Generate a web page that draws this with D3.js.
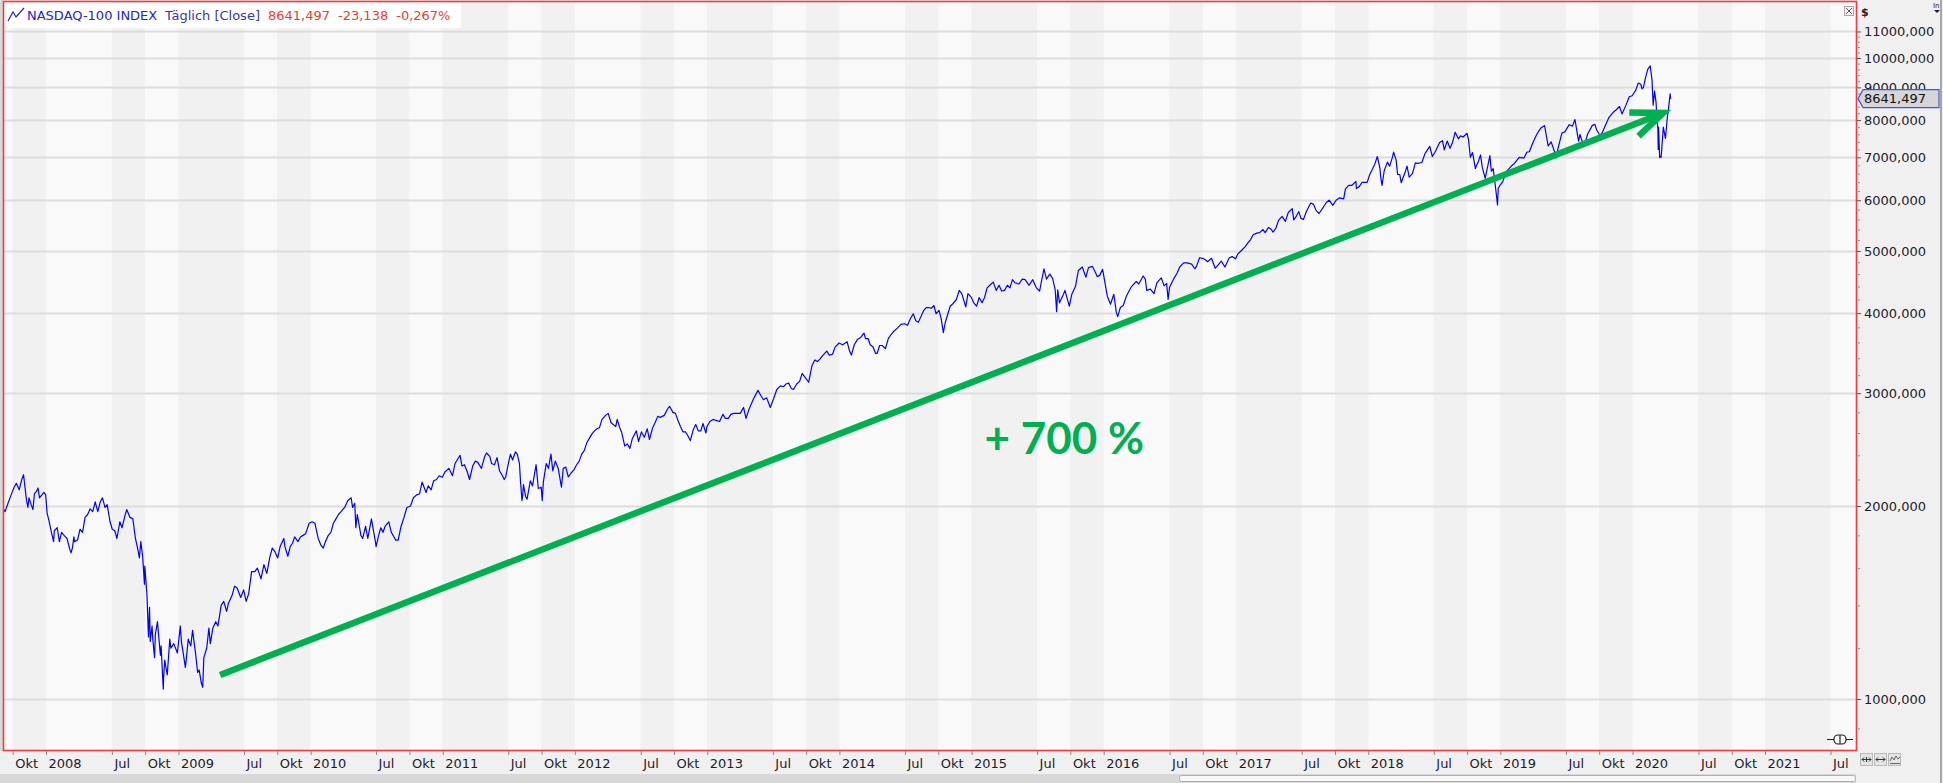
<!DOCTYPE html>
<html>
<head>
<meta charset="utf-8">
<script src="https://cdn.jsdelivr.net/npm/d3@7"></script>
<style>
  html, body { margin: 0; padding: 0; background: #f0f0f0; overflow: hidden; }
  svg { display: block; font-family: 'DejaVu Sans', sans-serif; }
</style>
</head>
<body>
<svg id="chart" width="1943" height="783"></svg>
<script>
const closes = [
  ['2007-09-04', 1985], ['2007-09-10', 1960], ['2007-09-18', 2020], ['2007-09-28', 2091],
  ['2007-10-05', 2140], ['2007-10-11', 2170], ['2007-10-19', 2120], ['2007-10-26', 2200],
  ['2007-10-31', 2238], ['2007-11-08', 2045], ['2007-11-12', 1990], ['2007-11-15', 2060],
  ['2007-11-21', 2010], ['2007-11-26', 1975], ['2007-11-30', 2090], ['2007-12-06', 2110],
  ['2007-12-10', 2134], ['2007-12-14', 2060], ['2007-12-20', 2080], ['2007-12-26', 2100],
  ['2007-12-31', 2084],
  ['2008-01-04', 1950], ['2008-01-09', 1900], ['2008-01-15', 1830], ['2008-01-18', 1800],
  ['2008-01-22', 1760], ['2008-01-24', 1830], ['2008-02-01', 1850], ['2008-02-07', 1760],
  ['2008-02-13', 1820], ['2008-02-20', 1800], ['2008-02-28', 1780], ['2008-03-07', 1710],
  ['2008-03-10', 1690], ['2008-03-14', 1720], ['2008-03-18', 1790], ['2008-03-20', 1760],
  ['2008-03-28', 1770], ['2008-04-04', 1840], ['2008-04-11', 1820], ['2008-04-18', 1920],
  ['2008-04-25', 1940], ['2008-05-02', 1980], ['2008-05-09', 1960], ['2008-05-16', 2030],
  ['2008-05-23', 1960], ['2008-05-30', 2030], ['2008-06-05', 2060], ['2008-06-12', 1990],
  ['2008-06-18', 2010], ['2008-06-26', 1890], ['2008-07-02', 1840], ['2008-07-09', 1830],
  ['2008-07-15', 1780], ['2008-07-23', 1890], ['2008-07-29', 1850], ['2008-08-06', 1930],
  ['2008-08-11', 1975], ['2008-08-20', 1920], ['2008-08-28', 1910], ['2008-09-04', 1780],
  ['2008-09-09', 1730], ['2008-09-15', 1660], ['2008-09-19', 1760], ['2008-09-24', 1670],
  ['2008-09-29', 1510], ['2008-09-30', 1612], ['2008-10-06', 1450], ['2008-10-09', 1300],
  ['2008-10-10', 1250], ['2008-10-13', 1390], ['2008-10-15', 1230], ['2008-10-20', 1300],
  ['2008-10-22', 1240], ['2008-10-27', 1160], ['2008-10-29', 1260], ['2008-11-04', 1320],
  ['2008-11-07', 1260], ['2008-11-12', 1170], ['2008-11-14', 1210], ['2008-11-20', 1036],
  ['2008-11-21', 1080], ['2008-11-24', 1150], ['2008-12-01', 1090], ['2008-12-08', 1240],
  ['2008-12-11', 1200], ['2008-12-19', 1220], ['2008-12-29', 1180],
  ['2009-01-06', 1300], ['2009-01-09', 1230], ['2009-01-15', 1170], ['2009-01-20', 1120],
  ['2009-01-23', 1160], ['2009-01-28', 1240], ['2009-02-04', 1210], ['2009-02-09', 1280],
  ['2009-02-17', 1180], ['2009-02-23', 1100], ['2009-02-27', 1110], ['2009-03-05', 1060],
  ['2009-03-09', 1043], ['2009-03-12', 1160], ['2009-03-20', 1200], ['2009-03-26', 1290],
  ['2009-03-30', 1220], ['2009-04-06', 1290], ['2009-04-14', 1320], ['2009-04-20', 1300],
  ['2009-04-29', 1400], ['2009-05-06', 1420], ['2009-05-14', 1370], ['2009-05-19', 1410],
  ['2009-05-29', 1450], ['2009-06-05', 1500], ['2009-06-12', 1490], ['2009-06-22', 1440],
  ['2009-06-30', 1480], ['2009-07-07', 1420], ['2009-07-14', 1460], ['2009-07-22', 1580],
  ['2009-07-31', 1580], ['2009-08-07', 1600], ['2009-08-17', 1540], ['2009-08-25', 1620],
  ['2009-09-02', 1570], ['2009-09-10', 1660], ['2009-09-17', 1720], ['2009-09-24', 1700],
  ['2009-10-02', 1660], ['2009-10-09', 1730], ['2009-10-19', 1780], ['2009-10-22', 1730],
  ['2009-10-30', 1670], ['2009-11-06', 1730], ['2009-11-12', 1750], ['2009-11-18', 1790],
  ['2009-11-27', 1760], ['2009-12-04', 1790], ['2009-12-11', 1800], ['2009-12-18', 1810],
  ['2009-12-28', 1880],
  ['2010-01-05', 1890], ['2010-01-13', 1880], ['2010-01-22', 1780], ['2010-01-29', 1740],
  ['2010-02-05', 1720], ['2010-02-11', 1760], ['2010-02-19', 1800], ['2010-02-26', 1820],
  ['2010-03-05', 1880], ['2010-03-12', 1910], ['2010-03-19', 1940], ['2010-03-26', 1960],
  ['2010-04-05', 1990], ['2010-04-14', 2040], ['2010-04-23', 2060], ['2010-04-27', 1990],
  ['2010-05-03', 2020], ['2010-05-06', 1850], ['2010-05-10', 1940], ['2010-05-20', 1800],
  ['2010-05-25', 1780], ['2010-06-02', 1860], ['2010-06-08', 1780], ['2010-06-18', 1910],
  ['2010-06-29', 1760], ['2010-07-01', 1728], ['2010-07-08', 1800], ['2010-07-14', 1850],
  ['2010-07-20', 1820], ['2010-07-26', 1860], ['2010-08-05', 1890], ['2010-08-12', 1820],
  ['2010-08-24', 1770], ['2010-08-31', 1770], ['2010-09-08', 1860], ['2010-09-16', 1920],
  ['2010-09-24', 1990], ['2010-10-04', 2000], ['2010-10-12', 2060], ['2010-10-20', 2080],
  ['2010-10-29', 2090], ['2010-11-05', 2180], ['2010-11-16', 2100], ['2010-11-22', 2150],
  ['2010-11-30', 2120], ['2010-12-07', 2190], ['2010-12-15', 2200], ['2010-12-22', 2230],
  ['2010-12-31', 2218],
  ['2011-01-07', 2260], ['2011-01-18', 2290], ['2011-01-28', 2230], ['2011-02-04', 2330],
  ['2011-02-10', 2360], ['2011-02-18', 2400], ['2011-02-23', 2310], ['2011-03-02', 2320],
  ['2011-03-10', 2260], ['2011-03-16', 2200], ['2011-03-25', 2310], ['2011-04-01', 2350],
  ['2011-04-08', 2340], ['2011-04-18', 2290], ['2011-04-27', 2390], ['2011-05-02', 2420],
  ['2011-05-11', 2390], ['2011-05-16', 2330], ['2011-05-24', 2320], ['2011-05-31', 2380],
  ['2011-06-07', 2270], ['2011-06-15', 2230], ['2011-06-20', 2200], ['2011-06-24', 2220],
  ['2011-06-30', 2310], ['2011-07-07', 2410], ['2011-07-13', 2360], ['2011-07-21', 2430],
  ['2011-07-26', 2410], ['2011-08-01', 2330], ['2011-08-04', 2180], ['2011-08-08', 2040],
  ['2011-08-10', 2080], ['2011-08-12', 2160], ['2011-08-18', 2070], ['2011-08-22', 2050],
  ['2011-08-31', 2190], ['2011-09-06', 2150], ['2011-09-16', 2320], ['2011-09-22', 2130],
  ['2011-09-30', 2140], ['2011-10-03', 2040], ['2011-10-06', 2180], ['2011-10-14', 2330],
  ['2011-10-20', 2290], ['2011-10-27', 2410], ['2011-11-01', 2270], ['2011-11-08', 2350],
  ['2011-11-16', 2290], ['2011-11-25', 2140], ['2011-11-30', 2290], ['2011-12-07', 2300],
  ['2011-12-14', 2220], ['2011-12-21', 2250], ['2011-12-30', 2280],
  ['2012-01-06', 2320], ['2012-01-13', 2350], ['2012-01-20', 2410], ['2012-01-27', 2440],
  ['2012-02-03', 2510], ['2012-02-10', 2550], ['2012-02-17', 2590], ['2012-02-24', 2620],
  ['2012-03-02', 2640], ['2012-03-09', 2650], ['2012-03-16', 2730], ['2012-03-26', 2770],
  ['2012-04-02', 2790], ['2012-04-10', 2700], ['2012-04-13', 2690], ['2012-04-23', 2660],
  ['2012-04-27', 2730], ['2012-05-04', 2650], ['2012-05-09', 2610], ['2012-05-18', 2480],
  ['2012-05-25', 2500], ['2012-06-01', 2460], ['2012-06-08', 2550], ['2012-06-19', 2620],
  ['2012-06-25', 2520], ['2012-07-03', 2610], ['2012-07-11', 2560], ['2012-07-19', 2640],
  ['2012-07-25', 2540], ['2012-08-03', 2650], ['2012-08-10', 2700], ['2012-08-17', 2760],
  ['2012-08-24', 2750], ['2012-09-04', 2770], ['2012-09-14', 2840], ['2012-09-19', 2860],
  ['2012-09-28', 2800], ['2012-10-05', 2790], ['2012-10-12', 2720], ['2012-10-19', 2660],
  ['2012-10-26', 2610], ['2012-11-02', 2610], ['2012-11-09', 2570], ['2012-11-15', 2530],
  ['2012-11-23', 2630], ['2012-11-30', 2680], ['2012-12-07', 2620], ['2012-12-14', 2620],
  ['2012-12-20', 2690], ['2012-12-28', 2600], ['2012-12-31', 2660],
  ['2013-01-08', 2710], ['2013-01-17', 2730], ['2013-01-25', 2720], ['2013-02-04', 2710],
  ['2013-02-13', 2780], ['2013-02-20', 2740], ['2013-02-28', 2740], ['2013-03-07', 2780],
  ['2013-03-15', 2790], ['2013-03-22', 2790], ['2013-04-02', 2790], ['2013-04-11', 2850],
  ['2013-04-18', 2740], ['2013-04-26', 2830], ['2013-05-03', 2890], ['2013-05-10', 2950],
  ['2013-05-21', 3030], ['2013-05-28', 2980], ['2013-06-05', 2930], ['2013-06-14', 2950],
  ['2013-06-24', 2850], ['2013-07-03', 2940], ['2013-07-12', 3040], ['2013-07-22', 3080],
  ['2013-07-31', 3070], ['2013-08-06', 3100], ['2013-08-14', 3110], ['2013-08-21', 3050],
  ['2013-08-27', 3040], ['2013-09-05', 3100], ['2013-09-13', 3130], ['2013-09-20', 3220],
  ['2013-09-27', 3180], ['2013-10-08', 3120], ['2013-10-17', 3310], ['2013-10-25', 3380],
  ['2013-11-01', 3360], ['2013-11-08', 3390], ['2013-11-15', 3430], ['2013-11-27', 3490],
  ['2013-12-04', 3440], ['2013-12-13', 3450], ['2013-12-20', 3540], ['2013-12-31', 3592],
  ['2014-01-10', 3570], ['2014-01-22', 3610], ['2014-01-29', 3490], ['2014-02-03', 3440],
  ['2014-02-11', 3570], ['2014-02-20', 3640], ['2014-02-28', 3660], ['2014-03-06', 3700],
  ['2014-03-10', 3720], ['2014-03-14', 3650], ['2014-03-21', 3650], ['2014-03-27', 3570],
  ['2014-04-04', 3540], ['2014-04-11', 3460], ['2014-04-15', 3460], ['2014-04-22', 3560],
  ['2014-04-29', 3560], ['2014-05-08', 3520], ['2014-05-16', 3650], ['2014-05-23', 3700],
  ['2014-05-30', 3740], ['2014-06-10', 3790], ['2014-06-20', 3840], ['2014-06-30', 3850],
  ['2014-07-08', 3830], ['2014-07-16', 3920], ['2014-07-24', 3990], ['2014-07-31', 3890],
  ['2014-08-07', 3870], ['2014-08-15', 3960], ['2014-08-22', 4040], ['2014-08-29', 4080],
  ['2014-09-05', 4080], ['2014-09-12', 4070], ['2014-09-19', 4110], ['2014-09-25', 3990],
  ['2014-10-03', 4040], ['2014-10-09', 3920], ['2014-10-15', 3730], ['2014-10-20', 3860],
  ['2014-10-27', 3980], ['2014-11-03', 4100], ['2014-11-11', 4140], ['2014-11-20', 4200],
  ['2014-11-28', 4340], ['2014-12-05', 4290], ['2014-12-16', 4090], ['2014-12-22', 4290],
  ['2014-12-31', 4236],
  ['2015-01-07', 4150], ['2015-01-15', 4100], ['2015-01-22', 4230], ['2015-01-30', 4150],
  ['2015-02-06', 4230], ['2015-02-13', 4380], ['2015-02-24', 4440], ['2015-03-02', 4470],
  ['2015-03-10', 4340], ['2015-03-18', 4420], ['2015-03-25', 4330], ['2015-04-02', 4340],
  ['2015-04-10', 4420], ['2015-04-17', 4380], ['2015-04-24', 4510], ['2015-05-01', 4460],
  ['2015-05-12', 4440], ['2015-05-21', 4520], ['2015-05-29', 4510], ['2015-06-09', 4420],
  ['2015-06-19', 4510], ['2015-06-29', 4380], ['2015-07-08', 4330], ['2015-07-13', 4480],
  ['2015-07-20', 4690], ['2015-07-27', 4520], ['2015-08-05', 4600], ['2015-08-13', 4530],
  ['2015-08-20', 4350], ['2015-08-24', 4020], ['2015-08-27', 4350], ['2015-09-01', 4150],
  ['2015-09-11', 4270], ['2015-09-16', 4340], ['2015-09-28', 4100], ['2015-10-05', 4280],
  ['2015-10-15', 4400], ['2015-10-23', 4660], ['2015-11-03', 4720], ['2015-11-13', 4550],
  ['2015-11-20', 4710], ['2015-12-01', 4730], ['2015-12-10', 4620], ['2015-12-14', 4560],
  ['2015-12-21', 4580], ['2015-12-29', 4680],
  ['2016-01-04', 4480], ['2016-01-11', 4250], ['2016-01-20', 4130], ['2016-01-29', 4280],
  ['2016-02-05', 4010], ['2016-02-09', 3950], ['2016-02-16', 4080], ['2016-02-24', 4110],
  ['2016-03-03', 4240], ['2016-03-11', 4330], ['2016-03-18', 4400], ['2016-03-31', 4480],
  ['2016-04-07', 4440], ['2016-04-19', 4570], ['2016-04-25', 4520], ['2016-04-29', 4340],
  ['2016-05-09', 4360], ['2016-05-19', 4290], ['2016-05-27', 4460], ['2016-06-08', 4540],
  ['2016-06-16', 4410], ['2016-06-23', 4450], ['2016-06-27', 4200], ['2016-07-01', 4390],
  ['2016-07-14', 4540], ['2016-07-22', 4620], ['2016-07-29', 4720], ['2016-08-09', 4790],
  ['2016-08-19', 4790], ['2016-08-31', 4770], ['2016-09-09', 4690], ['2016-09-14', 4740],
  ['2016-09-22', 4880], ['2016-09-30', 4870], ['2016-10-07', 4850], ['2016-10-14', 4810],
  ['2016-10-25', 4870], ['2016-11-04', 4700], ['2016-11-10', 4740], ['2016-11-21', 4820],
  ['2016-12-01', 4720], ['2016-12-13', 4880], ['2016-12-21', 4900], ['2016-12-30', 4860],
  ['2017-01-06', 4950], ['2017-01-13', 4990], ['2017-01-26', 5080], ['2017-02-03', 5150],
  ['2017-02-10', 5210], ['2017-02-17', 5300], ['2017-02-27', 5330], ['2017-03-07', 5340],
  ['2017-03-16', 5400], ['2017-03-22', 5340], ['2017-03-31', 5440], ['2017-04-07', 5410],
  ['2017-04-13', 5350], ['2017-04-21', 5430], ['2017-04-28', 5580], ['2017-05-08', 5660],
  ['2017-05-17', 5560], ['2017-05-25', 5740], ['2017-06-05', 5820], ['2017-06-09', 5590],
  ['2017-06-15', 5650], ['2017-06-23', 5760], ['2017-06-29', 5620], ['2017-07-06', 5600],
  ['2017-07-14', 5760], ['2017-07-26', 5940], ['2017-08-03', 5910], ['2017-08-10', 5780],
  ['2017-08-18', 5720], ['2017-08-28', 5830], ['2017-09-07', 5950], ['2017-09-15', 6000],
  ['2017-09-25', 5890], ['2017-10-04', 6000], ['2017-10-13', 6050], ['2017-10-25', 6030],
  ['2017-10-30', 6250], ['2017-11-08', 6330], ['2017-11-17', 6330], ['2017-11-28', 6420],
  ['2017-11-29', 6260], ['2017-12-07', 6300], ['2017-12-15', 6400], ['2017-12-29', 6396],
  ['2018-01-05', 6580], ['2018-01-12', 6700], ['2018-01-19', 6830], ['2018-01-26', 7020],
  ['2018-02-02', 6740], ['2018-02-05', 6480], ['2018-02-08', 6330], ['2018-02-14', 6670],
  ['2018-02-23', 6880], ['2018-03-01', 6780], ['2018-03-08', 6980], ['2018-03-12', 7130],
  ['2018-03-19', 6930], ['2018-03-23', 6580], ['2018-03-29', 6580], ['2018-04-02', 6390],
  ['2018-04-06', 6480], ['2018-04-13', 6640], ['2018-04-18', 6780], ['2018-04-24', 6520],
  ['2018-05-03', 6600], ['2018-05-11', 6860], ['2018-05-18', 6850], ['2018-05-29', 6870],
  ['2018-06-07', 7100], ['2018-06-20', 7280], ['2018-06-27', 7020], ['2018-07-06', 7160],
  ['2018-07-17', 7380], ['2018-07-25', 7430], ['2018-07-30', 7190], ['2018-08-07', 7420],
  ['2018-08-15', 7230], ['2018-08-22', 7390], ['2018-08-29', 7660], ['2018-09-07', 7480],
  ['2018-09-13', 7560], ['2018-09-20', 7530], ['2018-10-01', 7630], ['2018-10-05', 7450],
  ['2018-10-10', 7000], ['2018-10-16', 7120], ['2018-10-24', 6720], ['2018-10-26', 6780],
  ['2018-11-01', 6890], ['2018-11-07', 7060], ['2018-11-12', 6750], ['2018-11-20', 6490],
  ['2018-11-29', 6870], ['2018-12-03', 7040], ['2018-12-07', 6660], ['2018-12-12', 6720],
  ['2018-12-18', 6320], ['2018-12-24', 5899], ['2018-12-26', 6260], ['2018-12-31', 6330],
  ['2019-01-08', 6420], ['2019-01-17', 6650], ['2019-01-25', 6720], ['2019-02-01', 6790],
  ['2019-02-08', 6840], ['2019-02-22', 7000], ['2019-03-07', 6980], ['2019-03-15', 7130],
  ['2019-03-22', 7140], ['2019-04-01', 7380], ['2019-04-12', 7610], ['2019-04-23', 7780],
  ['2019-05-03', 7845], ['2019-05-13', 7290], ['2019-05-21', 7400], ['2019-05-31', 7130],
  ['2019-06-03', 6980], ['2019-06-12', 7330], ['2019-06-20', 7640], ['2019-06-28', 7670],
  ['2019-07-10', 7870], ['2019-07-19', 7830], ['2019-07-26', 8016], ['2019-08-05', 7420],
  ['2019-08-09', 7600], ['2019-08-14', 7430], ['2019-08-23', 7370], ['2019-08-30', 7610],
  ['2019-09-12', 7850], ['2019-09-19', 7880], ['2019-09-24', 7720], ['2019-10-02', 7590],
  ['2019-10-08', 7620], ['2019-10-18', 7850], ['2019-10-28', 8080], ['2019-11-08', 8220],
  ['2019-11-18', 8310], ['2019-11-26', 8400], ['2019-12-03', 8180], ['2019-12-13', 8420],
  ['2019-12-23', 8700], ['2019-12-31', 8733],
  ['2020-01-10', 8910], ['2020-01-17', 9140], ['2020-01-24', 9100], ['2020-01-27', 8950],
  ['2020-01-31', 8990], ['2020-02-05', 9270], ['2020-02-12', 9600], ['2020-02-19', 9718],
  ['2020-02-24', 9220], ['2020-02-27', 8440], ['2020-03-02', 8880], ['2020-03-06', 8530],
  ['2020-03-09', 7950], ['2020-03-11', 7760], ['2020-03-12', 7200], ['2020-03-13', 7800],
  ['2020-03-16', 6994], ['2020-03-18', 7020], ['2020-03-20', 7000], ['2020-03-24', 7500],
  ['2020-03-26', 7800], ['2020-04-01', 7490], ['2020-04-06', 8060], ['2020-04-09', 8300],
  ['2020-04-14', 8790], ['2020-04-15', 8665], ['2020-04-16', 8641.497]
]

const yLabels = [1000, 2000, 3000, 4000, 5000, 6000, 7000, 8000, 9000, 10000, 11000]
const monthNames = { 6: 'Jul', 9: 'Okt' }
const titleParts = [
  { text: 'NASDAQ-100 INDEX', color: '#2323d6' },
  { text: 'Täglich [Close]', color: '#3a36a8' },
  { text: '8641,497', color: '#e8402f' },
  { text: '-23,138', color: '#e8402f' },
  { text: '-0,267%', color: '#e8402f' }
]
const lastLabel = '8641,497'
// annotation in data coordinates
const arrowFrom = ['2009-04-26', 1090]
const arrowTo = ['2020-03-26', 8210]
const gainText = { date: '2015-02-06', value: 2553, text: '+ 700 %' }

const W = 1943
const H = 783
const plot = { left: 3, top: 1, right: 1856, bottom: 750 }
const parse = d3.timeParse('%Y-%m-%d')
const data = closes.map(d => ({ date: parse(d[0]), value: d[1] }))

const svg = d3.select('#chart')

const x = d3.scaleTime()
  .domain([new Date(2008, 0, 1), new Date(2021, 0, 1)])
  .range([46, 1765])

const y = d3.scaleLog()
  .domain([1000, 10000])
  .range([699, 58])

// frame backgrounds
svg.append('rect').attr('x', 0).attr('y', 0).attr('width', W).attr('height', H).attr('fill', '#f0f0f0')
svg.append('rect').attr('x', 0).attr('y', 0).attr('width', plot.left).attr('height', plot.bottom + 1).attr('fill', '#dadada')

// quarter bands
const tickDates = d3.timeMonth
  .range(x.invert(plot.left), x.invert(plot.right))
  .filter(d => d.getMonth() === 0 || d.getMonth() === 6 || d.getMonth() === 9)
const edges = [plot.left].concat(tickDates.map(d => x(d)), [plot.right])
const bands = d3.pairs(edges)
svg.append('g')
  .selectAll('rect')
  .data(bands)
  .join('rect')
  .attr('x', d => d[0])
  .attr('y', plot.top)
  .attr('width', d => d[1] - d[0])
  .attr('height', plot.bottom - plot.top)
  .attr('fill', (d, i) => (i % 2 ? '#f1f1f1' : '#f9f9f9'))

// horizontal grid
svg.append('g')
  .selectAll('line')
  .data(yLabels)
  .join('line')
  .attr('x1', plot.left)
  .attr('x2', plot.right)
  .attr('y1', d => Math.round(y(d)) + 0.5)
  .attr('y2', d => Math.round(y(d)) + 0.5)
  .attr('stroke', '#dddddd')
  .attr('stroke-width', 2)

// clip
svg.append('clipPath').attr('id', 'plotclip')
  .append('rect')
  .attr('x', plot.left).attr('y', plot.top)
  .attr('width', plot.right - plot.left).attr('height', plot.bottom - plot.top)

// price line
const line = d3.line()
  .x(d => x(d.date))
  .y(d => y(d.value))

svg.append('path')
  .datum(data)
  .attr('clip-path', 'url(#plotclip)')
  .attr('fill', 'none')
  .attr('stroke', '#0000ff')
  .attr('stroke-width', 1.2)
  .attr('stroke-linejoin', 'round')
  .attr('d', line)

// green arrow
const p0 = [x(parse(arrowFrom[0])), y(arrowFrom[1])]
const p1 = [x(parse(arrowTo[0])), y(arrowTo[1])]
const ang = Math.atan2(p0[1] - p1[1], p0[0] - p1[0])
const headLen = 34
const headSpread = 22 * Math.PI / 180
const arrowG = svg.append('g')
  .attr('stroke', '#00b050')
  .attr('stroke-width', 6.5)
  .attr('fill', 'none')
arrowG.append('line')
  .attr('x1', p0[0]).attr('y1', p0[1])
  .attr('x2', p1[0]).attr('y2', p1[1])
arrowG.append('path')
  .attr('stroke-linejoin', 'miter')
  .attr('d', d3.line()([
    [p1[0] + headLen * Math.cos(ang + headSpread), p1[1] + headLen * Math.sin(ang + headSpread)],
    p1,
    [p1[0] + headLen * Math.cos(ang - headSpread), p1[1] + headLen * Math.sin(ang - headSpread)]
  ]))

svg.append('text')
  .attr('x', x(parse(gainText.date)))
  .attr('y', y(gainText.value))
  .attr('dy', '0.36em')
  .attr('fill', '#00b050')
  .attr('font-family', 'Lato, sans-serif')
  .attr('font-weight', 'bold')
  .attr('font-size', 44)
  .text(gainText.text)

// title box
svg.append('rect')
  .attr('x', plot.left + 1).attr('y', plot.top + 2)
  .attr('width', 457).attr('height', 25)
  .attr('fill', '#ffffff')
svg.append('path')
  .attr('d', 'M8,21 L13,12 L16,17 L24,8')
  .attr('fill', 'none')
  .attr('stroke', '#2323d6')
  .attr('stroke-width', 1.2)
const title = svg.append('text')
  .attr('x', 27)
  .attr('y', 15)
  .attr('dy', '0.35em')
  .attr('font-size', 13)
title.selectAll('tspan')
  .data(titleParts)
  .join('tspan')
  .attr('dx', (d, i) => (i === 0 ? 0 : 8))
  .attr('fill', d => d.color)
  .text(d => d.text)

// close box
svg.append('rect')
  .attr('x', 1844.5).attr('y', 6.5).attr('width', 9).attr('height', 9)
  .attr('fill', '#f4f4f4').attr('stroke', '#a8a8a8')
svg.append('path')
  .attr('d', 'M1846,8 L1852,14 M1852,8 L1846,14')
  .attr('stroke', '#555').attr('stroke-width', 1)

// red frame
svg.append('rect')
  .attr('x', plot.left + 0.5).attr('y', plot.top + 0.5)
  .attr('width', plot.right - plot.left).attr('height', plot.bottom - plot.top)
  .attr('fill', 'none')
  .attr('stroke', '#f03c3c')
  .attr('stroke-width', 1.6)

// right axis
const minor = d3.range(1200, 11000, 200).filter(v => v % 1000 !== 0).concat([900])
const rAxisMinor = svg.append('g')
  .attr('transform', `translate(${plot.right + 2},0)`)
  .call(d3.axisRight(y).tickValues(minor).tickSize(2).tickFormat(''))
rAxisMinor.select('.domain').remove()
rAxisMinor.selectAll('line').attr('stroke', '#8a8a8a')

const rAxis = svg.append('g')
  .attr('transform', `translate(${plot.right + 1},0)`)
  .call(d3.axisRight(y).tickValues(yLabels).tickSize(4).tickPadding(3)
    .tickFormat(v => d3.format('d')(v) + ',000'))
rAxis.select('.domain').remove()
rAxis.selectAll('line').attr('stroke', '#555')
rAxis.selectAll('text')
  .attr('fill', '#1c1c2c')
  .attr('font-size', 13)
  .attr('font-family', 'DejaVu Sans, sans-serif')

// partially hidden bottom label
svg.append('clipPath').attr('id', 'lowclip')
  .append('rect').attr('x', plot.right).attr('y', 740).attr('width', 90).attr('height', 10)
svg.append('text')
  .attr('clip-path', 'url(#lowclip)')
  .attr('x', plot.right + 8).attr('y', 756)
  .attr('dy', '0.35em')
  .attr('font-size', 13)
  .attr('fill', '#1c1c2c')
  .text('0,000')

// last value marker
const yl = y(closes[closes.length - 1][1])
svg.append('path')
  .attr('d', `M${plot.right + 2},${yl} L${plot.right + 7},${yl - 9} L${W - 4},${yl - 9} L${W - 4},${yl + 9} L${plot.right + 7},${yl + 9} Z`)
  .attr('fill', '#d6d6d6')
  .attr('stroke', '#3a55e8')
  .attr('stroke-width', 1.2)
svg.append('text')
  .attr('x', plot.right + 8).attr('y', yl)
  .attr('dy', '0.35em')
  .attr('font-size', 13)
  .attr('fill', '#111')
  .text(lastLabel)

// top right bits
svg.append('text').attr('x', 1861).attr('y', 16).attr('font-size', 11).attr('font-weight', 'bold').attr('fill', '#222').text('$')
svg.append('text').attr('x', 1933).attr('y', 8).attr('font-size', 7).attr('fill', '#222').text('In')
svg.append('path').attr('d', 'M1934,10 L1940,10 L1937,13 Z').attr('fill', '#222')
svg.append('line').attr('x1', 1941).attr('x2', 1941).attr('y1', 0).attr('y2', H).attr('stroke', '#a6a6a6').attr('stroke-width', 2)

// bottom axis
const xAxis = svg.append('g')
  .attr('transform', `translate(0,${plot.bottom + 1})`)
  .call(d3.axisBottom(x).tickValues(tickDates).tickSize(4)
    .tickFormat(d => (d.getMonth() === 0 ? d3.timeFormat('%Y')(d) : monthNames[d.getMonth()])))
xAxis.select('.domain').remove()
xAxis.selectAll('line').attr('stroke', '#888')
xAxis.selectAll('text')
  .attr('text-anchor', 'start')
  .attr('x', 2)
  .attr('y', 13)
  .attr('dy', '0.32em')
  .attr('font-size', 13)
  .attr('font-family', 'DejaVu Sans, sans-serif')
  .attr('fill', '#1c1c2c')

// scrollbar
svg.append('rect').attr('x', 0).attr('y', 774).attr('width', plot.right).attr('height', 9).attr('fill', '#d8d8d8')
svg.append('rect').attr('x', 1179.5).attr('y', 775.5).attr('width', 676).attr('height', 6).attr('rx', 2)
  .attr('fill', '#f6f6f6').attr('stroke', '#b0b0b0')

// small tool icons
const icons = svg.append('g').attr('stroke', '#333').attr('fill', 'none').attr('stroke-width', 1)
;[1860, 1874, 1888].forEach((ix, i) => {
  icons.append('rect').attr('x', ix + 0.5).attr('y', 753.5).attr('width', 12).attr('height', 12)
    .attr('fill', '#e4e4e4').attr('stroke', '#bbb')
})
icons.append('path').attr('d', 'M1862,759.5 L1871,759.5 M1864,757.5 L1862,759.5 L1864,761.5 M1869,757.5 L1871,759.5 L1869,761.5 M1866.5,757 L1866.5,762')
icons.append('path').attr('d', 'M1876,759.5 L1885,759.5 M1878,757.5 L1876,759.5 L1878,761.5 M1883,757.5 L1885,759.5 L1883,761.5')
icons.append('path').attr('d', 'M1890,761 L1892,757 L1894,760 L1896,756 L1898,759 L1900,757 M1890,763.5 L1900,763.5').attr('stroke', '#666')

// zoom handle symbol
const h = svg.append('g').attr('stroke', '#222').attr('fill', 'none').attr('stroke-width', 1.2)
h.append('path').attr('d', 'M1827,739.5 L1834,739.5 M1846,739.5 L1853,739.5 M1840,735 L1840,744')
h.append('rect').attr('x', 1834).attr('y', 735).attr('width', 12).attr('height', 9).attr('rx', 4)
</script>
</body>
</html>
